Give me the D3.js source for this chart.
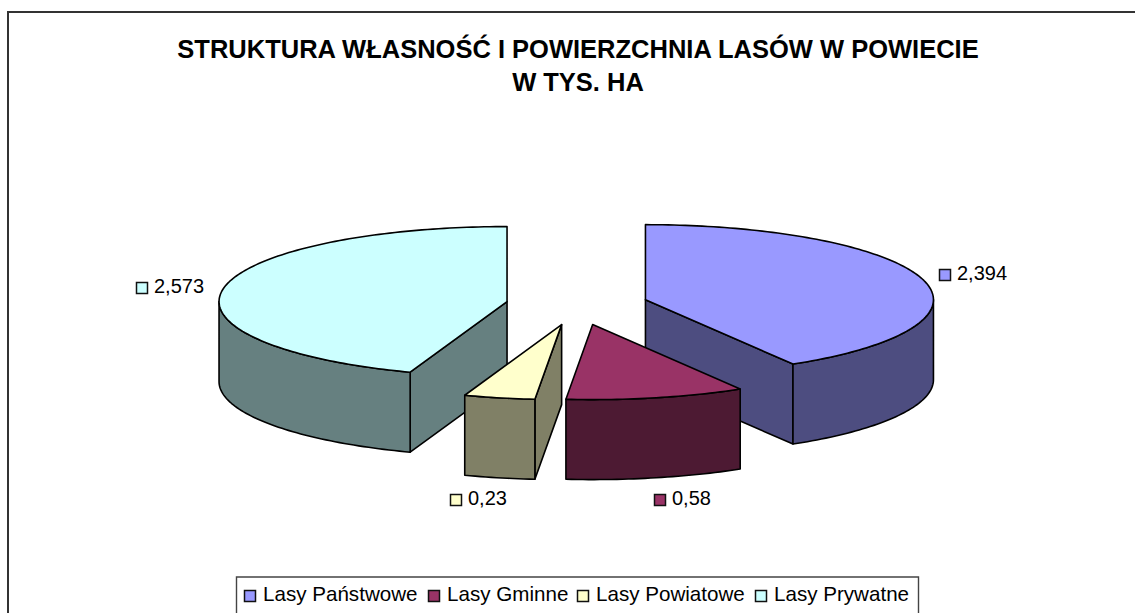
<!DOCTYPE html>
<html>
<head>
<meta charset="utf-8">
<script src="https://cdn.jsdelivr.net/npm/d3@7"></script>
<style>
    html, body { margin: 0; padding: 0; background: #fff; overflow: hidden; }
    text { font-family: "Liberation Sans", Arial, sans-serif; fill: #000; }
</style>
</head>
<body>
<svg width="1135" height="613"></svg>
<script>
const categories = ["Lasy Państwowe", "Lasy Gminne", "Lasy Powiatowe", "Lasy Prywatne"];
const values = [2.394, 0.58, 0.23, 2.573];
const valueLabels = ["2,394", "0,58", "0,23", "2,573"];
const colors = ["#9999ff", "#993366", "#ffffcc", "#ccffff"];
const titleLines = ["STRUKTURA WŁASNOŚĆ I POWIERZCHNIA LASÓW W POWIECIE", "W TYS. HA"];

const centerX = 577;
const centerY = 305;
const radiusX = 288;
const radiusY = 75;
const depth = 80;
const explode = 71;
const explodeTilt = 0.283;

// left edge of the key square and text baseline
const labelPos = [[939, 280], [654, 505], [450, 505], [136, 293]];

const svg = d3.select("svg");
const color = d3.scaleOrdinal().domain(categories).range(colors);
const pie = d3.pie().sort(null).startAngle(0).endAngle(2 * Math.PI);
const arcs = pie(values);

function apex (d) {
    let mid = (d.startAngle + d.endAngle) / 2;
    return [centerX + explode * Math.sin(mid), centerY - explode * explodeTilt * Math.cos(mid)];
}

function rimPoint (d, a, dy = 0) {
    let c = apex(d);
    return [c[0] + radiusX * Math.sin(a), c[1] - radiusY * Math.cos(a) + dy];
}

// sampled along the ellipse, start to end
function rim (d, a0, a1, dy = 0) {
    let n = Math.max(2, Math.ceil((a1 - a0) / 0.02));
    return d3.range(n + 1).map(i => rimPoint(d, a0 + (a1 - a0) * i / n, dy));
}

const line = d3.line();

function topPath (d) {
    return line([apex(d)].concat(rim(d, d.startAngle, d.endAngle))) + "Z";
}

function cutPath (d, a) {
    let c = apex(d);
    let p = rimPoint(d, a);
    return line([c, p, [p[0], p[1] + depth], [c[0], c[1] + depth]]) + "Z";
}

function wallPath (d) {
    let a0 = Math.max(d.startAngle, Math.PI / 2);
    let a1 = Math.min(d.endAngle, 3 * Math.PI / 2);
    if (a1 <= a0) return null;
    return line(rim(d, a0, a1).concat(rim(d, a0, a1, depth).reverse())) + "Z";
}

function darker (c) {
    let r = d3.rgb(c);
    return d3.rgb(r.r / 2, r.g / 2, r.b / 2).formatHex();
}

// chart frame, only the top and left edges are inside the picture
svg.append("path")
    .attr("d", "M8,613V12H1135")
    .attr("fill", "none")
    .attr("stroke", "#333")
    .attr("stroke-width", 2);

svg.selectAll("text.title")
    .data(titleLines)
    .enter().append("text")
    .attr("class", "title")
    .attr("x", 578)
    .attr("y", (d, i) => 58 + i * 33)
    .attr("text-anchor", "middle")
    .attr("font-size", 25.5)
    .attr("font-weight", "bold")
    .text(d => d);

// back slices first so the two small ones sit on top of their cut faces
const drawOrder = [0, 3, 1, 2];
const slices = svg.selectAll("g.slice")
    .data(drawOrder.map(i => arcs[i]))
    .enter().append("g")
    .attr("class", "slice")
    .attr("stroke", "#000")
    .attr("stroke-width", 1.6)
    .attr("stroke-linejoin", "round");

slices.each(function (d) {
    let g = d3.select(this);
    let col = color(categories[d.index]);
    let side = darker(col);
    if (d.endAngle < Math.PI) {
        g.append("path").attr("d", cutPath(d, d.endAngle)).attr("fill", side);
    }
    if (d.startAngle > Math.PI) {
        g.append("path").attr("d", cutPath(d, d.startAngle)).attr("fill", side);
    }
    let wall = wallPath(d);
    if (wall) g.append("path").attr("d", wall).attr("fill", side);
    g.append("path").attr("d", topPath(d)).attr("fill", col);
});

function keySquare (sel, x, y, fill) {
    sel.append("rect")
        .attr("x", x + 0.5)
        .attr("y", y + 0.5)
        .attr("width", 11)
        .attr("height", 11)
        .attr("fill", fill)
        .attr("stroke", "#111")
        .attr("stroke-width", 1.5);
}

// value labels
categories.forEach((c, i) => {
    keySquare(svg, labelPos[i][0], labelPos[i][1] - 11, color(c));
    svg.append("text")
        .attr("x", labelPos[i][0] + 18)
        .attr("y", labelPos[i][1])
        .attr("font-size", 20)
        .text(valueLabels[i]);
});

// legend
svg.append("path")
    .attr("d", "M236.5,613V577H918.5V613")
    .attr("fill", "#fff")
    .attr("stroke", "#444")
    .attr("stroke-width", 1.4);

const legendX = [244, 428, 577, 755];
categories.forEach((c, i) => {
    keySquare(svg, legendX[i], 590, color(c));
    svg.append("text")
        .attr("x", legendX[i] + 19)
        .attr("y", 601)
        .attr("font-size", 20.6)
        .text(c);
});
</script>
</body>
</html>
